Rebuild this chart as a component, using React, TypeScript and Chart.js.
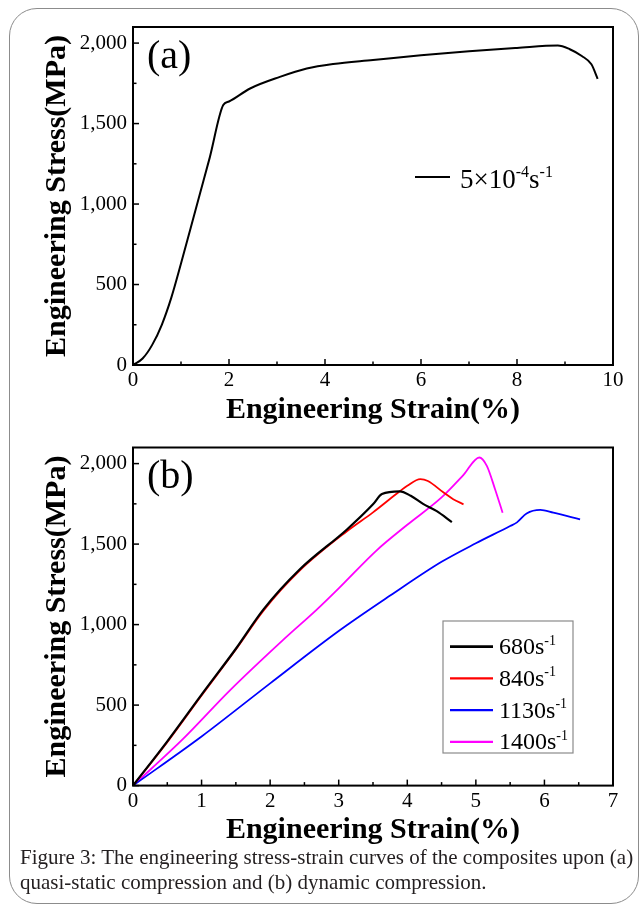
import React, { useEffect, useRef } from "react";
import { Chart, registerables } from "chart.js";
Chart.register(...registerables);

const FONT = '"Liberation Serif", "Times New Roman", serif';

// ---------- Data (a): quasi-static ----------
const strainA = [0, 0.2, 0.4, 0.6, 0.8, 1.0, 1.2, 1.4, 1.6, 1.88, 2.0, 2.44, 3.06, 3.62, 4.17, 5, 6, 7, 8, 8.85, 9.1, 9.35, 9.55, 9.68];
const stressA = [0, 40, 125, 250, 420, 630, 850, 1070, 1290, 1615, 1637, 1718, 1790, 1842, 1870, 1895, 1925, 1950, 1970, 1985, 1962, 1920, 1868, 1778];
const labelA = "5×10^{-4}s^{-1}";
const xTicksA = [0, 2, 4, 6, 8, 10];

// ---------- Data (b): dynamic ----------
const strain680 = [0, 0.5, 1.0, 1.5, 1.9, 2.43, 3.12, 3.5, 3.63, 3.89, 4.05, 4.23, 4.43, 4.65];
const stress680 = [0, 275, 565, 850, 1093, 1342, 1591, 1747, 1811, 1828, 1800, 1750, 1705, 1637];
const strain840 = [0, 0.5, 1.0, 1.5, 1.9, 2.43, 3.12, 3.5, 3.89, 4.0, 4.19, 4.3, 4.53, 4.67, 4.82];
const stress840 = [0, 270, 560, 845, 1085, 1335, 1580, 1697, 1828, 1862, 1903, 1892, 1820, 1779, 1747];
const strain1130 = [0, 1, 2, 3, 3.75, 4.5, 5, 5.5, 5.6, 5.74, 5.94, 6.13, 6.52];
const stress1130 = [0, 305, 635, 960, 1180, 1390, 1505, 1612, 1635, 1690, 1712, 1695, 1654];
const strain1400 = [0, 0.73, 1.41, 2.19, 2.68, 3.0, 3.55, 4.0, 4.5, 4.82, 5.05, 5.16, 5.28, 5.39];
const stress1400 = [0, 290, 590, 905, 1093, 1225, 1460, 1620, 1790, 1930, 2038, 1986, 1841, 1695];
const labelsB = ["680s^{-1}", "840s^{-1}", "1130s^{-1}", "1400s^{-1}"];
const colorsB = ["#000000", "#ff0000", "#0000ff", "#ff00ff"];
const widthsB = [2.2, 1.8, 1.8, 1.8];
const xTicksB = [0, 1, 2, 3, 4, 5, 6, 7];

const yTicks = [0, 500, 1000, 1500, 2000];
const xTitle = "Engineering Strain(%)";
const yTitle = "Engineering Stress(MPa)";
const caption1 = "Figure 3: The engineering stress-strain curves of the composites upon (a)";
const caption2 = "quasi-static compression and (b) dynamic compression.";

function drawRich(ctx: CanvasRenderingContext2D, text: string, x: number, y: number, size: number, supScale: number) {
  const parts = text.split(/(\^\{[^}]*\})/).filter(Boolean);
  let cx = x;
  ctx.textBaseline = "alphabetic";
  ctx.textAlign = "left";
  for (const p of parts) {
    if (p.startsWith("^{")) {
      const t = p.slice(2, -1);
      ctx.font = `${Math.round(size * supScale)}px ${FONT}`;
      ctx.fillText(t, cx, y - size * 0.4);
      cx += ctx.measureText(t).width;
    } else {
      ctx.font = `${size}px ${FONT}`;
      ctx.fillText(p, cx, y);
      cx += ctx.measureText(p).width;
    }
  }
}

function framePlugin(xMinor: number, xMajor: number, panel: string) {
  return {
    id: "frame",
    afterDraw(chart: any) {
      const { ctx, chartArea: a, scales } = chart;
      const x = scales.x, y = scales.y;
      ctx.save();
      ctx.strokeStyle = "#000";
      ctx.lineWidth = 1.5;
      for (let v = x.min; v <= x.max + 1e-9; v += xMinor) {
        const px = x.getPixelForValue(v);
        const major = Math.abs(v / xMajor - Math.round(v / xMajor)) < 1e-6;
        const len = major ? 6 : 3.5;
        ctx.beginPath();
        ctx.moveTo(px, a.bottom);
        ctx.lineTo(px, a.bottom - len);
        ctx.stroke();
      }
      for (let v = 0; v <= y.max + 1e-9; v += 250) {
        const py = y.getPixelForValue(v);
        const major = v % 500 === 0;
        const len = major ? 6 : 3.5;
        ctx.beginPath();
        ctx.moveTo(a.left, py);
        ctx.lineTo(a.left + len, py);
        ctx.stroke();
      }
      ctx.lineWidth = 2;
      ctx.strokeRect(a.left, a.top, a.right - a.left, a.bottom - a.top);
      ctx.fillStyle = "#000";
      ctx.font = `40px ${FONT}`;
      ctx.textBaseline = "middle";
      ctx.textAlign = "left";
      ctx.fillText(panel, a.left + 14, a.top + 30);
      ctx.restore();
    },
  };
}

function legendPluginA() {
  return {
    id: "legendA",
    afterDraw(chart: any) {
      const { ctx, chartArea: a } = chart;
      const ds = chart.data.datasets[0];
      ctx.save();
      const lx = a.left + 282, ly = a.top + 150;
      ctx.strokeStyle = ds.borderColor;
      ctx.lineWidth = 2;
      ctx.beginPath();
      ctx.moveTo(lx, ly);
      ctx.lineTo(lx + 35, ly);
      ctx.stroke();
      ctx.fillStyle = "#000";
      drawRich(ctx, ds.label, lx + 45, ly + 11, 27, 0.6);
      ctx.restore();
    },
  };
}

function legendPluginB() {
  return {
    id: "legendB",
    afterDraw(chart: any) {
      const { ctx, chartArea: a } = chart;
      ctx.save();
      const bx = a.left + 310, by = a.top + 173.5, bw = 130, bh = 132;
      ctx.strokeStyle = "#8a8a8a";
      ctx.lineWidth = 1.2;
      ctx.strokeRect(bx, by, bw, bh);
      chart.data.datasets.forEach((ds: any, i: number) => {
        const ly = by + 25.7 + i * 31.7;
        ctx.strokeStyle = ds.borderColor;
        ctx.lineWidth = ds.borderWidth + 0.5;
        ctx.beginPath();
        ctx.moveTo(bx + 7, ly);
        ctx.lineTo(bx + 50, ly);
        ctx.stroke();
        ctx.fillStyle = "#000";
        drawRich(ctx, ds.label, bx + 56, ly + 7.5, 24, 0.58);
      });
      ctx.restore();
    },
  };
}

function makeOptions(xMax: number, xTicks: number[], padTop: number, xHeight: number) {
  return {
    responsive: false,
    animation: false as const,
    events: [] as any[],
    layout: { padding: { top: padTop, right: 28, left: 0, bottom: 0 } },
    plugins: { legend: { display: false }, tooltip: { enabled: false } },
    scales: {
      x: {
        type: "linear" as const,
        min: 0,
        max: xMax,
        afterFit: (s: any) => { s.height = xHeight; },
        afterBuildTicks: (s: any) => { s.ticks = xTicks.map((v) => ({ value: v })); },
        grid: { display: false, drawTicks: false },
        border: { display: false },
        ticks: { font: { family: FONT, size: 21 }, color: "#000", padding: 3, maxRotation: 0, autoSkip: false },
        title: { display: true, text: xTitle, color: "#000", font: { family: FONT, size: 30, weight: "bold" as const }, padding: { top: 0, bottom: 0 } },
      },
      y: {
        type: "linear" as const,
        min: 0,
        max: 2100,
        afterFit: (s: any) => { s.width = 133; },
        afterBuildTicks: (s: any) => { s.ticks = yTicks.map((v) => ({ value: v })); },
        grid: { display: false, drawTicks: false },
        border: { display: false },
        ticks: {
          font: { family: FONT, size: 21 },
          color: "#000",
          padding: 6,
          callback: (v: any) => Number(v).toLocaleString("en-US"),
        },
        title: { display: true, text: yTitle, color: "#000", font: { family: FONT, size: 30, weight: "bold" as const }, padding: { top: 39, bottom: 0 } },
      },
    },
  };
}

function toPts(xs: number[], ys: number[]) {
  return xs.map((x, i) => ({ x, y: ys[i] }));
}

export default function App() {
  const refA = useRef<HTMLCanvasElement>(null);
  const refB = useRef<HTMLCanvasElement>(null);

  useEffect(() => {
    const chartA = new Chart(refA.current!, {
      type: "scatter",
      data: {
        datasets: [
          {
            label: labelA,
            data: toPts(strainA, stressA),
            showLine: true,
            borderColor: "#000000",
            borderWidth: 2,
            pointRadius: 0,
            cubicInterpolationMode: "monotone",
          } as any,
        ],
      },
      options: makeOptions(10, xTicksA, 27, 63) as any,
      plugins: [framePlugin(1, 2, "(a)"), legendPluginA()] as any,
    });
    const seriesX = [strain680, strain840, strain1130, strain1400];
    const seriesY = [stress680, stress840, stress1130, stress1400];
    const chartB = new Chart(refB.current!, {
      type: "scatter",
      data: {
        datasets: seriesX.map((xs, i) => ({
          label: labelsB[i],
          data: toPts(xs, seriesY[i]),
          showLine: true,
          borderColor: colorsB[i],
          borderWidth: widthsB[i],
          pointRadius: 0,
          cubicInterpolationMode: "monotone",
        })) as any,
      },
      options: makeOptions(7, xTicksB, 19.5, 62.4) as any,
      plugins: [framePlugin(0.5, 1, "(b)"), legendPluginB()] as any,
    });
    return () => {
      chartA.destroy();
      chartB.destroy();
    };
  }, []);

  return (
    <div style={{ position: "absolute", left: 0, top: 0, width: 641, height: 906, background: "#fff", overflow: "hidden" }}>
      <div
        style={{
          position: "absolute",
          left: 9,
          top: 8,
          width: 630,
          height: 896,
          boxSizing: "border-box",
          border: "1px solid #8c8c8c",
          borderRadius: 28,
        }}
      />
      <canvas ref={refA} width={641} height={428} style={{ position: "absolute", left: 0, top: 0, width: 641, height: 428 }} />
      <canvas ref={refB} width={641} height={420} style={{ position: "absolute", left: 0, top: 428, width: 641, height: 420 }} />
      <div
        style={{
          position: "absolute",
          left: 20,
          top: 845,
          fontFamily: FONT,
          fontSize: 21,
          lineHeight: "25px",
          color: "#231f20",
          whiteSpace: "nowrap",
        }}
      >
        {caption1}
        <br />
        {caption2}
      </div>
    </div>
  );
}
